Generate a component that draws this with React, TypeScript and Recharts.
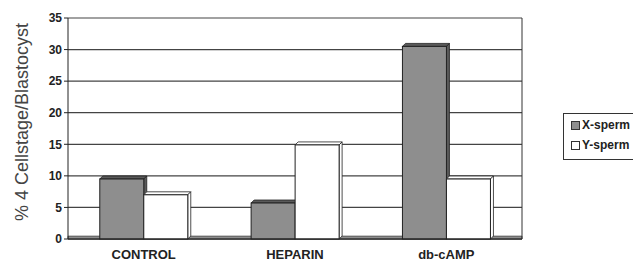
import React from 'react';
import { BarChart, Bar, XAxis, YAxis, CartesianGrid, ReferenceArea } from 'recharts';

const categories = ['CONTROL', 'HEPARIN', 'db-cAMP'];
const xSperm = [9.5, 5.7, 30.5];
const ySperm = [7.0, 14.9, 9.5];
const yTicks = [0, 5, 10, 15, 20, 25, 30, 35];
const seriesNames = ['X-sperm', 'Y-sperm'];
const seriesColors = ['#8e8e8e', '#ffffff'];

const data = categories.map((name, i) => ({ name, x: xSperm[i], y: ySperm[i] }));

const FONT = "Arial, 'Liberation Sans', sans-serif";
const DEPTH = 3;

// front face + top and right faces to fake the old excel 3d look
const Bar3D = (props: any) => {
  const { x, y, width, height, fill, side } = props;
  if (height == null || width == null) return null;
  const d = DEPTH;
  const top = `${x},${y} ${x + d},${y - d} ${x + width + d},${y - d} ${x + width},${y}`;
  const right = `${x + width},${y} ${x + width + d},${y - d} ${x + width + d},${y + height - d} ${x + width},${y + height}`;
  return (
    <g>
      <polygon points={top} fill={side} stroke="#222" strokeWidth={0.8} />
      <polygon points={right} fill={side} stroke="#222" strokeWidth={0.8} />
      <rect x={x} y={y} width={width} height={height} fill={fill} stroke="#222" strokeWidth={1} />
    </g>
  );
};

const YLabel = () => (
  <text
    x={0}
    y={0}
    transform="translate(28,122) rotate(-90)"
    textAnchor="middle"
    fontFamily={FONT}
    fontSize={18}
    fill="#444"
  >
    % 4 Cellstage/Blastocyst
  </text>
);

const LegendBox = () => (
  <div
    style={{
      position: 'absolute',
      left: 563,
      top: 113,
      height: 44,
      border: '1px solid #333',
      padding: '1px 0 0 7px',
      fontFamily: FONT,
      fontSize: 12,
      fontWeight: 'bold',
      color: '#222',
      background: '#fff',
      width: 90,
      lineHeight: '20px',
    }}
  >
    {seriesNames.map((label, i) => (
      <div key={label} style={{ display: 'flex', alignItems: 'center' }}>
        <span
          style={{
            display: 'inline-block',
            width: 7,
            height: 7,
            background: seriesColors[i],
            border: '1px solid #333',
            marginRight: 2,
          }}
        />
        {label}
      </div>
    ))}
  </div>
);

export default function App() {
  return (
    <div style={{ position: 'fixed', left: 0, top: 0, width: 633, height: 261, background: '#fff', overflow: 'hidden' }}>
      <BarChart
        width={633}
        height={261}
        data={data}
        margin={{ top: 18, right: 110, bottom: 0, left: 0 }}
        barCategoryGap="21%"
        barGap={0}
      >
        <CartesianGrid vertical={false} stroke="#444" strokeWidth={1.2} />
        <ReferenceArea y1={0} y2={0.45} fill="#8e8e8e" fillOpacity={1} stroke="#333" strokeWidth={0.8} />
        <XAxis
          dataKey="name"
          height={22}
          axisLine={{ stroke: '#222' }}
          tickLine={false}
          tick={{ fontFamily: FONT, fontSize: 13, fontWeight: 'bold', fill: '#222' }}
          tickMargin={5}
        />
        <YAxis
          width={68}
          domain={[0, 35]}
          ticks={yTicks}
          interval={0}
          axisLine={{ stroke: '#222' }}
          tickLine={{ stroke: '#222' }}
          tickSize={4}
          tick={{ fontFamily: FONT, fontSize: 12, fontWeight: 'bold', fill: '#222' }}
          label={<YLabel />}
        />
        <YAxis yAxisId="r" orientation="right" width={1} tick={false} tickLine={false} axisLine={{ stroke: '#333' }} />
        <Bar dataKey="x" name={seriesNames[0]} fill={seriesColors[0]} isAnimationActive={false} shape={(p: any) => <Bar3D {...p} side="#5a5a5a" />} />
        <Bar dataKey="y" name={seriesNames[1]} fill={seriesColors[1]} isAnimationActive={false} shape={(p: any) => <Bar3D {...p} side="#ffffff" />} />
      </BarChart>
      <LegendBox />
    </div>
  );
}
